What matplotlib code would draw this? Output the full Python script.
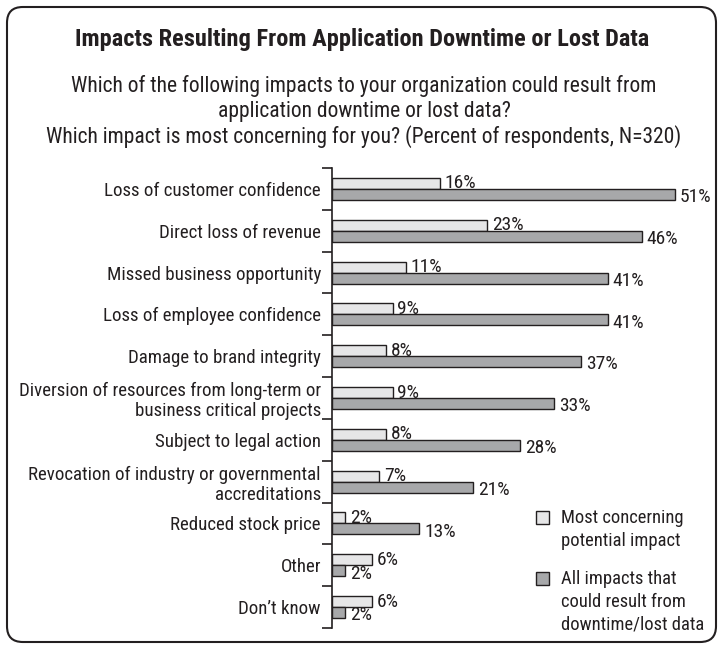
import matplotlib
matplotlib.use('Agg')
import matplotlib.pyplot as plt
from matplotlib.patches import FancyBboxPatch, Rectangle
import numpy as np

plt.rcParams['font.family'] = ['Roboto Condensed', 'DejaVu Sans']

categories = ['Loss of customer confidence',
              'Direct loss of revenue',
              'Missed business opportunity',
              'Loss of employee confidence',
              'Damage to brand integrity',
              'Diversion of resources from long-term or\nbusiness critical projects',
              'Subject to legal action',
              'Revocation of industry or governmental\naccreditations',
              'Reduced stock price',
              'Other',
              'Don\u2019t know']
most_concerning = [16, 23, 11, 9, 8, 9, 8, 7, 2, 6, 6]
all_impacts = [51, 46, 41, 41, 37, 33, 28, 21, 13, 2, 2]

W, H = 719, 646
LIGHT = '#e6e6e7'
DARK = '#a7a8aa'
EDGE = '#231f20'

fig = plt.figure(figsize=(W / 100, H / 100), dpi=100)

def fx(px):
    return px / W

def fy(py):
    return 1 - py / H

# rounded frame
frame = FancyBboxPatch((fx(7), fy(642)), fx(716) - fx(7), fy(7) - fy(642),
                       boxstyle='round,pad=0,rounding_size=0.022',
                       transform=fig.transFigure, fill=False, lw=1.5, ec=EDGE,
                       mutation_aspect=W / H)
fig.patches.append(frame)

fig.text(fx(362), fy(46), 'Impacts Resulting From Application Downtime or Lost Data',
         ha='center', va='baseline', fontsize=17.6, fontweight='bold', color=EDGE)
sub = ['Which of the following impacts to your organization could result from',
       'application downtime or lost data?',
       'Which impact is most concerning for you? (Percent of respondents, N=320)']
for i, s in enumerate(sub):
    fig.text(fx(364), fy(92 + 25.5 * i), s, ha='center', va='baseline', fontsize=15.5, color=EDGE)

# axes
x0, x1, ytop, ybot = 332, 700, 168, 628
ax = fig.add_axes([fx(x0), fy(ybot), fx(x1) - fx(x0), fy(ytop) - fy(ybot)])
ax.set_xlim(0, (x1 - x0) / 6.73)
n = len(categories)
ax.set_ylim(n - 0.5, -0.5)

y = np.arange(n)
bh = 0.263
ax.barh(y - bh / 2, most_concerning, height=bh, color=LIGHT, edgecolor=EDGE, lw=1)
ax.barh(y + bh / 2, all_impacts, height=bh, color=DARK, edgecolor=EDGE, lw=1)

for i in range(n):
    ax.annotate(f'{most_concerning[i]}%', (most_concerning[i], y[i] - bh / 2),
                xytext=(3.5, 0), textcoords='offset points', ha='left', va='center',
                fontsize=14, color=EDGE)
    ax.annotate(f'{all_impacts[i]}%', (all_impacts[i], y[i] + bh / 2),
                xytext=(3.5, -2), textcoords='offset points', ha='left', va='center',
                fontsize=14, color=EDGE)

for s in ['top', 'right', 'bottom']:
    ax.spines[s].set_visible(False)
ax.spines['left'].set_linewidth(1.2)
ax.spines['left'].set_color(EDGE)
ax.set_xticks([])
ax.set_yticks(np.arange(-0.5, n, 1.0))
ax.set_yticklabels([])
ax.tick_params(axis='y', which='major', length=7.2, width=1.2, color=EDGE, direction='out')
ax.set_yticks(y, minor=True)
ax.set_yticklabels(categories, minor=True, fontsize=13.6, color=EDGE, linespacing=1.15)
ax.tick_params(axis='y', which='minor', length=0, pad=8)
ax.patch.set_alpha(0)

# legend
leg = [(511, LIGHT, 'Most concerning\npotential impact'),
       (572, DARK, 'All impacts that\ncould result from\ndowntime/lost data')]
for top, col, lab in leg:
    fig.patches.append(Rectangle((fx(536), fy(top + 13)), fx(13), 13 / H,
                                 transform=fig.transFigure, fc=col, ec=EDGE, lw=1))
    fig.text(fx(561), fy(top - 2), lab, ha='left', va='top', fontsize=13.3,
             color=EDGE, linespacing=1.34)

fig.savefig('out.png', dpi=100)
